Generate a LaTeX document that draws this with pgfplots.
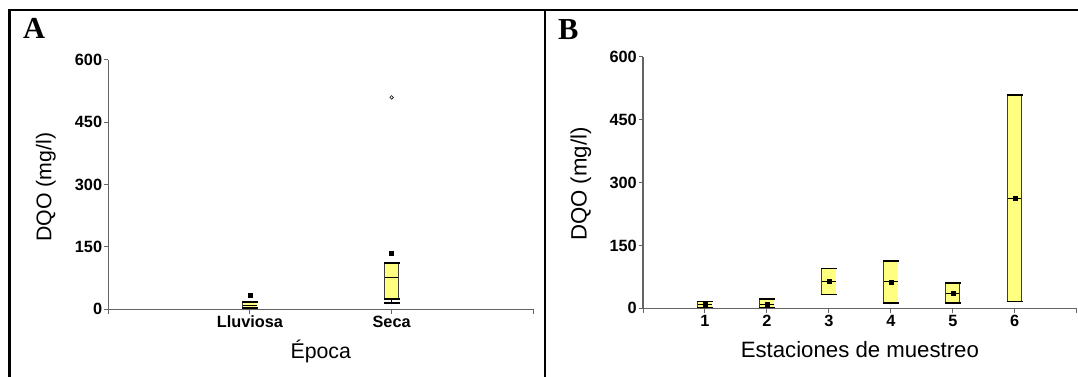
\documentclass[border=0pt]{standalone}
\usepackage{pgfplots}
\pgfplotsset{compat=1.18}
\usepackage{fontspec}
\setmainfont{Liberation Sans}
\newfontfamily\serifbold{Liberation Serif}
\definecolor{boxyellow}{RGB}{255,255,128}
\definecolor{boxedge}{RGB}{60,60,60}
\definecolor{axgray}{RGB}{100,100,100}
% x, low end, middle line, high end, box width (pt)
\newcommand{\floatbox}[5]{%
  \addplot[boxedge, line width=#5pt, forget plot] coordinates {(#1,#2) (#1,#4)};
  \addplot[boxyellow, line width=#5pt-1.6pt, forget plot] coordinates {(#1,#2) (#1,#4)};
  \addplot[only marks, mark=-, mark size=#5pt/2+0.6pt, mark options={black, line width=1.8pt}, forget plot] coordinates {(#1,#2) (#1,#4)};
  \addplot[only marks, mark=-, mark size=#5pt/2-0.8pt, mark options={black, line width=0.8pt}, forget plot] coordinates {(#1,#3)};
}
\begin{document}
\begin{tikzpicture}
\path[use as bounding box] (0pt,0pt) rectangle (1078pt,377pt);
% frame
\draw[line width=2.6pt] (9.5pt,0pt) -- (9.5pt,367pt) -- (1078pt,367pt);
\draw[line width=2.6pt] (545pt,0pt) -- (545pt,367pt);
\node[anchor=base west, inner sep=0pt, font=\fontsize{30.5}{32}\selectfont\serifbold\bfseries] at (23pt,338pt) {A};
\node[anchor=base west, inner sep=0pt, font=\fontsize{30.5}{32}\selectfont\serifbold\bfseries] at (558pt,337pt) {B};
\pgfplotsset{
  panel/.style={
    scale only axis,
    anchor=south west,
    axis lines=left,
    axis line style={-, draw=axgray, line width=1.2pt},
    tick align=outside,
    major tick length=4.5pt,
    tick style={axgray, line width=1pt},
    ymin=0, ymax=600,
    ytick={0,150,300,450,600},
    /pgf/number format/assume math mode=true,
    tick label style={font=\fontsize{16.3}{19}\selectfont\bfseries, black},
    yticklabel style={inner sep=1.5pt},
    xticklabel style={inner sep=2pt},
    clip=false,
  },
}
% Panel A
\begin{axis}[panel,
  at={(108.3pt,67.7pt)}, width=425pt, height=249.3pt,
  xmin=0, xmax=3,
  xtick={0,1,2,3}, xticklabels={,Lluviosa,Seca,},
  xlabel={Época}, ylabel={DQO (mg/l)},
  label style={font=\fontsize{21.3}{24}\selectfont, black},
  xlabel style={at={(rel axis cs:0.5,0)}, anchor=base, yshift=-49pt},
  ylabel style={at={(axis description cs:-0.1466,0.49)}, anchor=center},
]
% Lluviosa: box 3-17, median 10
\floatbox{1}{3}{10}{17}{15}
% Seca: whisker 16, box 24-112, median 76
\addplot[black, line width=0.8pt, forget plot] coordinates {(2,16) (2,24)};
\floatbox{2}{24}{76}{112}{15}
\addplot[only marks, mark=-, mark size=8.1pt, mark options={black, line width=1.8pt}] coordinates {(2,16)};
% outliers
\addplot[only marks, mark=square*, mark size=2pt, black] coordinates {(1,34) (2,136)};
\addplot[only marks, mark=o, mark size=1.8pt, black, mark options={line width=0.6pt}] coordinates {(2,510)};
\end{axis}
% Panel B
\begin{axis}[panel,
  at={(643pt,68.7pt)}, width=433.7pt, height=251.6pt,
  xmin=0, xmax=7,
  xtick={0,1,2,3,4,5,6,7}, xticklabels={,1,2,3,4,5,6,},
  xlabel={Estaciones de muestreo}, ylabel={DQO (mg/l)},
  label style={font=\fontsize{22.2}{25}\selectfont, black},
  xlabel style={at={(rel axis cs:0.5,0)}, anchor=base, yshift=-49.7pt},
  ylabel style={at={(axis description cs:-0.143,0.494)}, anchor=center},
]
% station, min, mean, max
\floatbox{1}{2}{9}{16}{15}
\floatbox{2}{2}{10}{22}{15}
\floatbox{3}{33}{64}{95}{15}
\floatbox{4}{13}{63}{113}{15}
\floatbox{5}{13}{36}{60}{15}
\floatbox{6}{16}{262}{509}{15}
\addplot[only marks, mark=square*, mark size=2pt, black] coordinates {(1,9) (2,10) (3,64) (4,63) (5,36) (6,262)};
\end{axis}
\end{tikzpicture}
\end{document}
